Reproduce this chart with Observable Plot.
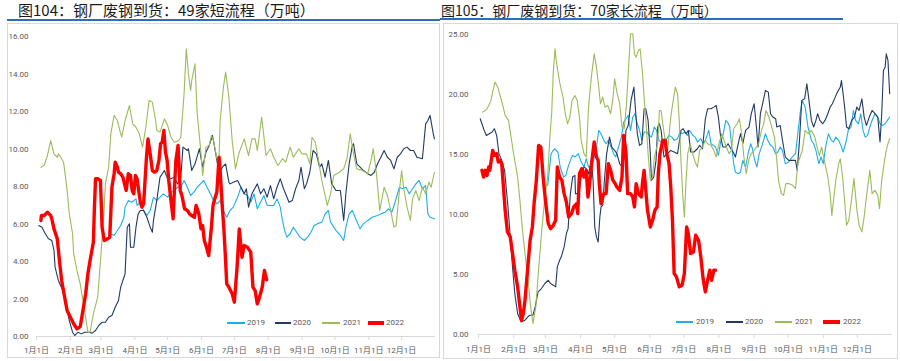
<!DOCTYPE html>
<html><head><meta charset="utf-8">
<script src="https://cdn.jsdelivr.net/npm/d3@7"></script>
<script src="https://cdn.jsdelivr.net/npm/@observablehq/plot@0.6"></script>
<style>
body{margin:0;background:#fff;width:900px;height:361px;overflow:hidden;position:relative;font-family:"Noto Sans CJK SC",sans-serif}
.abs{position:absolute}
.title{position:absolute;white-space:nowrap;color:#1a1a1a;font-family:"Noto Sans CJK SC",sans-serif}
.box{position:absolute;border:1px solid #d9d9d9;box-sizing:border-box}
.leg{position:absolute;font:8px Roboto,"Noto Sans CJK SC",sans-serif;color:#595959;line-height:10px;white-space:nowrap}
</style></head><body>
<script>
const monthDays = [0,31,59,90,120,151,181,212,243,273,304,334];
const monthLabels = ["1月1日","2月1日","3月1日","4月1日","5月1日","6月1日","7月1日","8月1日","9月1日","10月1日","11月1日","12月1日"];
const years = ["2019","2020","2021","2022"];
const yearColors = ["#1DAEE8","#213A64","#9CBB5A","#FF0000"];
const titleLeft = "图104：钢厂废钢到货：49家短流程（万吨）";
const titleRight = "图105：钢厂废钢到货：70家长流程（万吨）";
const ticksLeft = [0,2,4,6,8,10,12,14,16];
const ticksRight = [0,5,10,15,20,25];

// Left panel: 49 short-process mills, [day of year, value]
const L2019 = [[68,5.48],[71,5.39],[74,5.65],[77,5.92],[80,6.36],[81,6.9],[84,7.25],[87,7.16],[91,7.34],[92,6.99],[95,7.16],[98,6.72],[101,6.45],[104,6.72],[107,7.43],[110,7.25],[113,7.43],[116,7.61],[120,7.43],[123,7.7],[126,7.79],[129,7.96],[132,7.96],[135,8.32],[138,7.96],[141,7.52],[144,7.7],[147,7.96],[150,8.14],[153,8.32],[156,7.96],[159,7.61],[162,7.25],[165,7.08],[168,7.25],[171,6.72],[174,6.36],[177,6.72],[180,6.9],[184,7.43],[187,7.96],[190,7.61],[193,7.52],[196,7.16],[199,7.61],[202,6.81],[205,7.16],[208,7.52],[211,6.99],[214,6.99],[217,6.99],[220,7.34],[223,6.9],[225,6.19],[227,5.65],[229,5.3],[232,5.48],[235,5.83],[238,5.56],[241,5.3],[245,5.12],[248,5.3],[251,5.56],[254,5.92],[257,6.01],[261,6.1],[264,6.54],[267,6.72],[269,6.1],[274,5.65],[278,5.39],[281,5.12],[283,5.83],[286,6.54],[289,6.72],[292,6.28],[296,5.74],[299,6.01],[303,6.19],[307,6.36],[312,6.45],[315,6.54],[319,6.63],[322,6.81],[325,6.63],[328,7.16],[332,7.96],[335,7.88],[338,7.96],[341,7.61],[344,7.88],[347,8.14],[350,8.32],[353,7.88],[356,8.05],[358,6.54],[360,6.36],[364,6.28]];
const L2020 = [[2,5.92],[5,5.83],[8,5.48],[11,5.21],[14,5.12],[16,4.59],[17,3.7],[20,2.99],[24,2.45],[27,1.74],[30,0.85],[33,0.23],[35,0.05],[38,0.23],[41,0.14],[44,0.23],[48,0.23],[51,0.18],[54,0.32],[57,0.59],[60,0.76],[63,0.76],[66,1.03],[69,1.12],[72,1.56],[75,1.92],[77,2.63],[80,3.16],[81,3.34],[83,5.83],[85,6.01],[86,4.76],[89,4.76],[91,5.83],[93,6.54],[95,6.72],[98,6.72],[101,6.36],[104,5.83],[106,5.56],[107,6.19],[110,7.25],[113,8.5],[117,8.85],[120,8.41],[123,8.41],[126,8.5],[129,8.14],[132,8.5],[134,10.1],[138,9.92],[139,10.01],[142,8.85],[145,9.21],[149,10.01],[152,9.03],[155,9.83],[158,10.19],[161,10.72],[164,9.74],[167,8.68],[170,9.03],[173,9.21],[176,8.23],[177,8.14],[180,8.23],[184,8.32],[187,7.96],[190,7.61],[192,7.88],[194,6.9],[197,7.61],[202,8.14],[205,7.61],[208,7.88],[211,7.43],[214,8.05],[217,7.34],[220,7.96],[223,8.41],[226,7.88],[231,7.16],[234,7.25],[237,7.88],[240,8.32],[242,9.03],[245,7.88],[247,8.14],[250,8.76],[253,9.92],[256,9.74],[259,9.03],[261,9.21],[264,8.5],[267,9.39],[270,8.14],[274,7.79],[278,7.79],[281,6.19],[283,7.61],[286,9.21],[289,10.19],[290,10.28],[293,9.21],[296,9.03],[299,8.85],[303,8.68],[306,8.59],[309,8.76],[312,9.21],[315,9.56],[318,9.92],[321,9.56],[324,9.39],[327,8.94],[330,9.56],[333,9.74],[336,10.01],[339,10.1],[342,9.92],[345,9.92],[348,9.56],[353,9.48],[356,11.34],[358,11.52],[360,11.79],[363,10.81],[364,10.54]];
const L2021 = [[4,9.03],[7,9.12],[10,9.65],[13,10.45],[16,9.74],[19,9.56],[20,9.74],[24,9.39],[25,9.21],[28,7.79],[30,6.54],[33,5.48],[34,4.41],[37,3.52],[40,2.81],[43,1.74],[47,0.23],[49,0.23],[52,1.21],[56,2.1],[59,4.41],[62,6.9],[63,8.14],[66,9.03],[68,10.81],[71,11.79],[74,11.52],[77,10.81],[78,10.63],[81,11.52],[85,12.32],[88,11.34],[91,11.16],[94,10.81],[97,10.1],[100,11.16],[103,12.59],[106,12.5],[109,11.52],[110,10.99],[113,10.9],[117,11.61],[120,11.25],[123,10.63],[126,10.36],[130,10.45],[132,10.63],[135,12.94],[137,15.34],[139,14.0],[141,13.12],[142,13.65],[145,14.54],[147,11.88],[150,10.1],[152,8.59],[155,10.1],[158,10.19],[160,10.72],[162,10.45],[165,9.48],[167,9.56],[168,11.52],[171,13.3],[173,14.1],[176,12.76],[179,10.45],[182,8.94],[185,9.74],[190,10.54],[194,9.65],[197,10.54],[200,10.54],[202,9.92],[206,11.7],[210,9.65],[214,10.01],[217,9.56],[221,9.12],[225,9.48],[228,9.3],[232,10.1],[235,9.56],[240,10.01],[243,9.74],[247,9.74],[250,9.21],[252,10.63],[255,10.36],[258,9.39],[261,8.32],[266,6.99],[269,7.61],[272,8.59],[277,8.76],[281,8.94],[284,9.48],[287,10.81],[290,9.74],[293,8.94],[298,8.85],[303,8.68],[306,9.39],[308,10.01],[311,8.68],[314,6.72],[318,7.96],[321,7.52],[324,6.72],[327,5.83],[329,5.92],[332,7.79],[334,8.85],[336,7.88],[339,6.9],[342,6.19],[344,7.34],[347,7.79],[350,7.25],[353,7.96],[356,7.61],[359,8.23],[361,7.96],[364,8.76]];
const L2022 = [[4,6.19],[4.5,6.45],[7,6.45],[10,6.63],[13,6.45],[14,6.28],[16,5.74],[19,5.21],[21,4.05],[23,2.99],[26,2.01],[28,1.39],[31,1.03],[34,0.68],[37,0.41],[40,0.53],[42,1.21],[45,2.28],[47,3.34],[49,4.05],[52,5.03],[53,6.9],[54,8.41],[56,8.41],[58.5,8.32],[60,5.83],[62,5.12],[65,5.21],[67,5.3],[69,7.96],[71,8.68],[72,9.3],[74,9.03],[75,8.76],[77,8.68],[79,8.5],[80.5,8.14],[82,7.79],[84,8.68],[86,8.59],[87.5,7.79],[89,7.61],[90.5,8.59],[92,8.41],[93.5,7.79],[95,7.16],[96.5,6.9],[98,7.08],[100.5,9.48],[102,10.54],[104,9.74],[106,8.85],[108,8.76],[110,8.85],[112,9.39],[113.5,10.28],[115,10.36],[116.5,10.99],[118,9.83],[119.5,9.39],[121,8.32],[123,7.25],[125,6.28],[126,7.61],[127.5,9.39],[129.5,10.19],[131.5,7.79],[133,7.52],[135.5,6.81],[138,6.72],[140,6.54],[142,6.45],[144.5,6.36],[146,6.99],[148.5,6.54],[150.5,5.74],[152,5.92],[153.5,5.12],[155.5,4.76],[157.5,4.32],[160,5.83],[161.5,6.99],[163.5,7.43],[165,7.7],[167,9.56],[168,8.85],[170,6.9],[171.5,5.65],[173,4.05],[174,2.81],[176,2.63],[179,2.28],[181,1.83],[183.5,3.7],[185.5,5.74],[188,4.23],[190,4.85],[193,4.76],[196,4.5],[198,2.63],[200,2.45],[202,1.74],[204,2.1],[206.5,2.63],[208.5,3.52],[210.5,3.02]];

// Right panel: 70 long-process mills, [day of year, value]
const R2019 = [[61,12.43],[64,15.07],[67,15.48],[70,15.21],[72,13.96],[75,13.12],[77,13.26],[79,13.96],[81,14.51],[83,14.93],[85,14.79],[88,15.07],[90,14.51],[93,13.96],[95,14.65],[97,13.96],[99,13.96],[101.5,14.51],[104,15.62],[106,17.01],[108,16.73],[110.5,16.18],[112.5,15.9],[114.5,16.18],[117,15.62],[119,15.07],[121,14.79],[123,15.48],[126,16.45],[128,17.7],[130,17.98],[132,18.26],[134,17.01],[136,18.12],[138,18.4],[140,17.56],[142,17.01],[144,16.18],[146,16.87],[148.5,16.87],[150.5,16.59],[152.5,16.45],[155,17.29],[157,17.01],[159,16.18],[161,16.04],[164,15.9],[166,16.32],[168,16.59],[170.5,16.45],[172.5,16.18],[175.5,16.32],[177.5,16.87],[180,16.73],[182,16.87],[184,16.59],[186,17.01],[189,16.59],[191,16.45],[193,16.04],[196,16.32],[198,15.9],[200,16.18],[203,17.01],[205,15.9],[207,15.76],[209,15.62],[211.5,14.93],[213.5,16.04],[215.5,16.59],[218,17.84],[219.5,17.7],[221.5,17.29],[223,15.9],[225,14.23],[226.5,13.54],[229,13.4],[231,13.54],[233,14.51],[235.5,13.96],[238,15.21],[240,15.9],[241.5,15.48],[243.5,14.51],[245.5,13.96],[247.5,15.07],[250,15.76],[253,16.73],[255,16.18],[257.5,15.76],[259.5,15.62],[262,15.07],[264,15.21],[266,15.62],[268,15.34],[270.5,14.23],[273.5,14.37],[276.5,14.79],[279.5,15.07],[281.5,16.73],[283.5,18.4],[285.5,19.51],[288,18.95],[290.5,17.29],[293.5,16.18],[295.5,15.9],[297.5,15.34],[300,14.23],[302,14.79],[304,14.23],[306,15.62],[308.5,16.73],[311,16.18],[313,16.04],[315,16.45],[317.5,16.18],[319.5,15.76],[321.5,15.21],[324,16.04],[326,17.01],[328.5,17.29],[330.5,18.67],[332.5,17.84],[335,17.56],[337,18.4],[339,17.01],[341,16.45],[343,16.59],[345,17.29],[347,17.84],[349.5,18.4],[352,18.12],[354,17.56],[356,17.42],[358.5,17.56],[360.5,17.84],[362.5,18.12]];
const R2020 = [[1.5,17.98],[3,17.56],[5,17.01],[7,16.59],[9.5,16.73],[12,16.87],[14,17.15],[16,16.59],[18,15.07],[20.5,14.51],[23,13.68],[26,10.63],[28,8.13],[30,5.63],[32,3.41],[34.5,1.75],[37.5,1.05],[41,1.19],[45,1.61],[48,1.61],[50,2.3],[52.5,3.55],[55.5,3.83],[58.5,4.25],[61.5,4.52],[63.5,4.25],[66,4.11],[68,3.97],[69.5,5.63],[71.5,6.19],[73,6.47],[75.5,7.3],[77.5,8.41],[79,8.82],[81,11.74],[83,13.12],[85,13.26],[85.5,11.74],[88,11.74],[89,12.01],[90.5,13.12],[93,13.96],[95,13.82],[97,13.4],[99.5,14.51],[101,12.85],[102.5,8.96],[104,8.13],[105.5,7.71],[107,9.79],[108,10.63],[109.5,10.77],[111,12.85],[113,15.07],[115.5,16.45],[117.5,15.62],[120,15.34],[122,15.07],[124.5,14.23],[126.5,13.96],[128.5,14.79],[130,17.01],[132,17.42],[134.5,19.51],[137,20.62],[138,19.23],[140,16.73],[142,15.76],[144,15.9],[146,18.81],[147.5,18.81],[149.5,17.84],[151.5,15.07],[152.5,12.85],[154.5,13.12],[156.5,14.51],[158,17.29],[159.5,17.56],[161,17.01],[163.5,14.79],[166.5,15.07],[169.5,15.34],[172.5,15.21],[175.5,15.07],[178.5,17.01],[180.5,17.15],[183,16.73],[185,17.01],[187,15.21],[190,15.21],[193,15.48],[195,15.76],[197.5,15.48],[200,17.98],[202,18.81],[205,18.81],[207.5,18.95],[209.5,19.09],[211.5,18.12],[213.5,16.45],[215.5,15.62],[218,15.62],[220,15.9],[222.5,15.48],[224.5,15.21],[226.5,14.79],[229,15.9],[231,16.73],[233,15.9],[235.5,17.01],[238.5,17.29],[240.5,18.4],[243,19.23],[245,17.29],[246.5,15.62],[248.5,18.4],[250.5,19.23],[253,20.34],[255.5,20.2],[257.5,18.4],[259.5,18.12],[262,17.98],[263,17.29],[266,17.42],[268,16.18],[270.5,14.79],[273.5,14.51],[276.5,14.51],[279.5,14.51],[281,13.68],[283,16.18],[285,19.51],[287.5,19.64],[289.5,20.89],[291,19.78],[293.5,17.84],[295.5,17.29],[297.5,17.84],[299,18.4],[301,17.84],[303.5,17.56],[305.5,17.84],[308,18.4],[310,18.95],[312,19.23],[314.5,19.78],[316.5,20.2],[319,20.62],[320,21.17],[322.5,19.23],[324.5,17.29],[326.5,17.15],[329,17.84],[331.5,18.12],[333.5,18.95],[335.5,18.67],[338,19.64],[340,18.12],[342,17.42],[344.5,18.12],[347,18.67],[349.5,18.4],[352,18.12],[354,16.04],[355.5,18.4],[357,22.0],[358.5,22.28],[359.5,23.39],[361,22.84],[362.5,20.06]];
const R2021 = [[3.5,18.53],[6,18.67],[7.5,18.81],[9,19.09],[11,19.51],[12.5,20.2],[14.5,21.03],[17,20.62],[19,19.92],[21,19.23],[23.5,18.26],[26.5,17.84],[28.5,16.59],[30.5,15.34],[32,14.51],[34.5,13.12],[36.5,11.18],[38.5,8.96],[41,6.74],[44,4.25],[46,2.3],[48,0.92],[50.5,2.3],[52.5,4.8],[55.5,8.41],[58.5,11.46],[61,13.12],[63,16.59],[64.5,18.4],[66,22.0],[67.5,23.81],[68.5,22.84],[71.5,21.03],[74.5,19.78],[76.5,18.4],[78.5,17.56],[80.5,18.12],[82.5,19.51],[85,19.92],[87,19.51],[89,18.12],[90.5,16.18],[93,15.07],[95,14.79],[97,18.95],[99.5,21.45],[102,23.39],[104,22.28],[106,20.62],[107.5,19.23],[109.5,19.78],[111.5,18.95],[114,19.09],[116.5,18.4],[118.5,19.64],[120,21.31],[122,20.2],[124.5,19.23],[126.5,17.29],[128.5,17.15],[130.5,19.23],[132.5,22.56],[134,25.06],[136,25.06],[137.5,23.39],[139,23.11],[141,23.67],[142.5,23.81],[144.5,21.86],[146,19.78],[148,17.29],[149.5,15.07],[151.5,12.85],[153.5,13.12],[155,14.79],[158,15.9],[159.5,18.67],[161,18.67],[162.5,17.56],[164.5,16.18],[166.5,15.07],[169.5,18.12],[171,19.09],[173.5,20.62],[175.5,20.06],[177,17.84],[178.5,14.51],[180,11.74],[181.5,9.79],[183,12.85],[184.5,15.07],[186.5,15.9],[188.5,15.21],[191,14.37],[193,13.96],[195,15.34],[197.5,15.62],[200,16.18],[202,15.9],[205,15.76],[207.5,15.34],[209.5,14.79],[212,15.9],[214.5,16.73],[216.5,16.18],[218.5,15.62],[221,15.07],[223,15.34],[225,17.15],[228,17.56],[230,17.98],[232,16.73],[234,14.79],[236,13.4],[238.5,14.65],[240.5,15.07],[243,15.34],[245,15.62],[247,15.9],[249.5,17.01],[251.5,17.56],[253.5,18.67],[256,18.12],[258.5,17.29],[261,16.45],[263,14.51],[264.5,12.85],[267,11.74],[269,11.6],[271,12.57],[274,12.57],[277,12.43],[279.5,12.15],[281.5,14.23],[283.5,14.79],[285.5,15.34],[288,17.01],[290.5,16.73],[293.5,17.01],[296.5,16.45],[298.5,15.62],[300.5,14.93],[302.5,15.62],[305.5,14.23],[308,13.12],[310,11.74],[311.5,9.93],[313,11.18],[315,12.85],[317.5,14.23],[319,14.65],[321,13.12],[322.5,11.46],[324.5,9.1],[326.5,9.52],[329,11.32],[331,12.99],[333.5,10.49],[335.5,9.1],[338,8.55],[340,9.79],[342,11.46],[345,13.68],[347,11.74],[349.5,12.01],[352,11.6],[353.5,10.49],[355.5,12.85],[357.5,14.23],[359.5,15.34],[361,15.9],[362.5,16.32]];
const R2022 = [[3,13.68],[4.5,13.12],[6,13.68],[7.5,13.26],[9,13.96],[10,13.68],[12.5,15.34],[14,14.93],[16,15.07],[17.5,14.37],[19,14.51],[20.5,14.23],[22,12.29],[23.5,10.35],[25.5,8.55],[28,8.13],[30,6.74],[32,5.36],[34.5,3.97],[36.5,2.3],[38,1.19],[39.5,1.75],[41,2.86],[42.5,4.52],[44,6.19],[45.5,7.85],[47.5,8.96],[49,10.9],[51,12.85],[53,15.76],[55,15.62],[57,13.12],[59,11.18],[61.5,9.24],[63.5,8.82],[66,9.1],[68,9.52],[69.5,13.96],[71.5,13.12],[73.5,12.85],[75.5,11.74],[77.5,11.04],[79.5,9.79],[82,10.07],[84,10.63],[86.5,10.9],[87.5,10.07],[89,13.4],[91,13.82],[93,13.12],[95,13.68],[96.5,11.46],[98,12.57],[100,14.51],[102,16.04],[104,14.79],[105.5,14.51],[106.5,12.57],[108,10.9],[110.5,11.74],[112.5,11.74],[114.5,14.23],[116.5,13.68],[118.5,12.85],[120.5,12.57],[122,12.29],[124.5,12.01],[126.5,13.12],[128,16.59],[130,15.21],[131.5,11.74],[134,11.74],[136,11.46],[137.5,10.63],[139,12.57],[141,11.74],[143.5,11.46],[144.5,12.57],[146,13.68],[147.5,12.01],[149,10.35],[151.5,8.96],[153.5,9.52],[155.5,10.35],[157.5,10.63],[158.5,13.4],[160,15.07],[162.5,16.18],[164.5,16.18],[166,15.07],[168,14.23],[169.5,12.29],[171,9.52],[172.5,5.08],[174.5,4.8],[177,3.97],[179.5,4.11],[181.5,5.08],[183.5,8.96],[185,8.41],[187,6.74],[189.5,6.88],[191.5,8.27],[194,7.85],[196,6.47],[198,4.66],[200,3.55],[202,4.52],[204,5.36],[205.5,4.52],[207.5,5.36],[209,5.36]];

const leftSeries = [L2019, L2020, L2021, L2022];
const rightSeries = [R2019, R2020, R2021, R2022];

function el(tag, cls, style, text) {
  const e = document.createElement(tag);
  if (cls) e.className = cls;
  Object.assign(e.style, style);
  if (text != null) e.textContent = text;
  document.body.appendChild(e);
  return e;
}

function panel(series, cfg) {
  const marks = [
    Plot.ruleY([0], {stroke: "#d9d9d9", strokeWidth: 1}),
    Plot.axisX({ticks: monthDays, tickFormat: d => monthLabels[monthDays.indexOf(d)], tickSize: 4, tickPadding: cfg.xPad, stroke: "#d9d9d9", fill: "#595959", fontSize: 8}),
    Plot.axisY({ticks: cfg.yTicks, tickFormat: d => d.toFixed(2), tickSize: 0, tickPadding: cfg.yPad, fill: "#595959", fontSize: 8})
  ];
  series.forEach((s, i) => {
    marks.push(Plot.line(s, {x: d => d[0], y: d => d[1], stroke: yearColors[i], strokeWidth: i === 3 ? 3.4 : 1.1, strokeLinejoin: "round"}));
  });
  const svg = Plot.plot({
    width: cfg.width, height: cfg.height,
    marginLeft: cfg.ml, marginRight: cfg.mr, marginTop: cfg.mt, marginBottom: cfg.mb,
    x: {domain: [0, 365]},
    y: {domain: [0, cfg.yMax]},
    style: {fontFamily: "Roboto, 'Noto Sans CJK SC', sans-serif", color: "#595959", background: "transparent", overflow: "visible"},
    marks
  });
  svg.style.position = "absolute";
  svg.style.left = cfg.left + "px";
  svg.style.top = cfg.top + "px";
  document.body.appendChild(svg);
}

function legend(items) {
  items.forEach((it, i) => {
    el("div", "abs", {left: it.sx + "px", top: (it.y - (i === 3 ? 2 : 1)) + "px", width: it.sw + "px", height: (i === 3 ? 4 : 2) + "px", background: yearColors[i]});
    el("div", "leg", {left: it.tx + "px", top: (it.y - 5) + "px"}, years[i]);
  });
}

// frames and titles
el("div", "box", {left: "7px", top: "23px", width: "433px", height: "335px"});
el("div", "box", {left: "443px", top: "23px", width: "455px", height: "336px"});
el("div", "title", {left: "18px", top: "2px", fontSize: "15px", lineHeight: "16px"}, titleLeft);
el("div", "title", {left: "441px", top: "2px", fontSize: "14px", lineHeight: "16px"}, titleRight);
el("div", "abs", {left: "7px", top: "19px", width: "433px", height: "2px", background: "#2F6DB5"});
el("div", "abs", {left: "440px", top: "18px", width: "403px", height: "2px", background: "#2F6DB5"});

panel(leftSeries, {left: 7, top: 24, width: 433, height: 334, ml: 29, mr: 5, mt: 12, mb: 22, yMax: 16, yTicks: ticksLeft, yPad: 8, xPad: 7});
panel(rightSeries, {left: 443, top: 24, width: 454, height: 334, ml: 35, mr: 5, mt: 10, mb: 24, yMax: 25, yTicks: ticksRight, yPad: 10, xPad: 8});

legend([{sx: 227, sw: 18, tx: 247, y: 323}, {sx: 275, sw: 16, tx: 293, y: 323}, {sx: 322, sw: 18, tx: 343, y: 323}, {sx: 368, sw: 16, tx: 386, y: 323}]);
legend([{sx: 676, sw: 17, tx: 696, y: 322}, {sx: 726, sw: 17, tx: 745, y: 322}, {sx: 775, sw: 17, tx: 795, y: 322}, {sx: 823, sw: 17, tx: 843, y: 322}]);
</script>
</body></html>
